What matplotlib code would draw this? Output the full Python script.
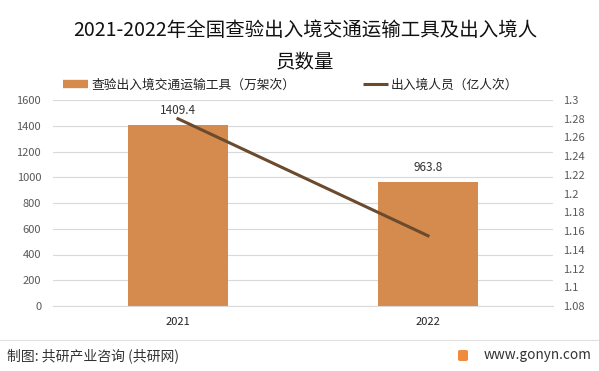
import numpy as np
import matplotlib.pyplot as plt
from matplotlib.patches import FancyBboxPatch
from matplotlib.lines import Line2D

plt.rcParams['font.family'] = ['Noto Sans CJK SC', 'DejaVu Sans']

# data
years = ['2021', '2022']
vehicles = [1409.4, 963.8]      # 查验出入境交通运输工具（万架次）
persons = [1.28, 1.155]         # 出入境人员（亿人次）

left_ticks = [0, 200, 400, 600, 800, 1000, 1200, 1400, 1600]
right_ticks = [1.08, 1.1, 1.12, 1.14, 1.16, 1.18, 1.2, 1.22, 1.24, 1.26, 1.28, 1.3]

BAR_COLOR = '#D48B4D'
LINE_COLOR = '#6B4A2E'
GRID_COLOR = '#D9D9D9'
TEXT_COLOR = '#595959'

W, H = 599, 371
fig = plt.figure(figsize=(W / 100, H / 100), dpi=100)
ax = fig.add_axes([53 / W, 65 / H, 500 / W, 206 / H])

x = np.arange(len(years))
ax.bar(x, vehicles, width=0.4, color=BAR_COLOR, zorder=2)
ax.set_xlim(-0.5, len(years) - 0.5)
ax.set_ylim(0, 1600)
ax.set_yticks(left_ticks)
ax.set_yticklabels([str(t) for t in left_ticks])
ax.set_xticks(x)
ax.set_xticklabels(years)
ax.yaxis.grid(True, color=GRID_COLOR, linewidth=0.8, zorder=0)
ax.tick_params(axis='both', length=0, labelsize=8, colors=TEXT_COLOR)
ax.tick_params(axis='x', pad=8, labelcolor='#222222')
ax.tick_params(axis='y', pad=8.5)
for s in ['top', 'right', 'left']:
    ax.spines[s].set_visible(False)
ax.spines['bottom'].set_color(GRID_COLOR)

# data labels, ~14px above bar tops
for xi, v in zip(x, vehicles):
    ax.text(xi, v + 14 / 206 * 1600, f'{v}', ha='center', va='center', fontsize=8.5, color='#333333')

ax2 = ax.twinx()
ax2.plot(x, persons, color=LINE_COLOR, linewidth=2.2, zorder=3)
ax2.set_ylim(1.08, 1.3)
ax2.set_yticks(right_ticks)
ax2.set_yticklabels([f'{t:g}' for t in right_ticks])
ax2.tick_params(axis='y', length=0, labelsize=8, colors=TEXT_COLOR, pad=7)
for s in ['top', 'right', 'left', 'bottom']:
    ax2.spines[s].set_visible(False)

# title
fig.text(305 / W, 1 - 31 / H, '2021-2022年全国查验出入境交通运输工具及出入境人', ha='center', va='center',
         fontsize=14, color='#111111')
fig.text(305 / W, 1 - 63 / H, '员数量', ha='center', va='center', fontsize=14, color='#111111')

# legend
handles = [
    Line2D([0], [0], color=BAR_COLOR, linewidth=6, solid_capstyle='butt'),
    Line2D([0], [0], color=LINE_COLOR, linewidth=2.2, solid_capstyle='butt'),
]
fig.legend(handles, ['查验出入境交通运输工具（万架次）', '出入境人员（亿人次）'],
           loc='center left', bbox_to_anchor=(63 / W, 1 - 85 / H), ncol=2, frameon=False,
           fontsize=9.2, handlelength=1.95, handletextpad=0.25, columnspacing=5.3,
           borderpad=0, borderaxespad=0, labelcolor='#222222')

# footer
fig.add_artist(Line2D([0, 1], [1 - 340 / H, 1 - 340 / H], color='#E0E0E0', linewidth=0.8))
fig.text(7 / W, 1 - 356 / H, '制图: 共研产业咨询 (共研网)', ha='left', va='center', fontsize=10, color='#333333')
fig.text(591 / W, 1 - 355 / H, 'www.gonyn.com', ha='right', va='center', fontsize=9.8, color='#333333')
fig.add_artist(FancyBboxPatch((458 / W, 1 - 361 / H), 10 / W, 11 / H,
                              boxstyle='round,pad=0,rounding_size=0.004',
                              facecolor='#F08A3C', edgecolor='none', transform=fig.transFigure))

fig.savefig('out.png', dpi=100)
